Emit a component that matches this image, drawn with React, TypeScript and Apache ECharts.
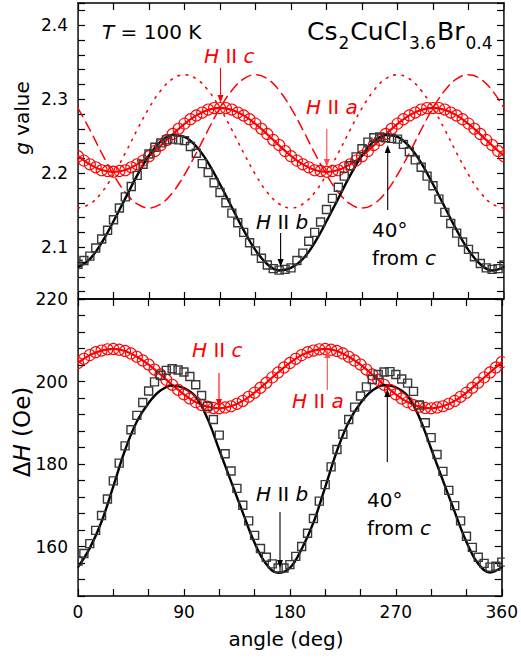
import React, { useEffect, useRef } from 'react';
import * as echarts from 'echarts';

// ---------- data ----------
const angles5 = [
  0, 5, 10, 15, 20, 25, 30, 35, 40, 45, 50, 55, 60, 65, 70, 75, 80, 85, 90,
  95, 100, 105, 110, 115, 120, 125, 130, 135, 140, 145, 150, 155, 160, 165, 170, 175, 180,
  185, 190, 195, 200, 205, 210, 215, 220, 225, 230, 235, 240, 245, 250, 255, 260, 265, 270,
  275, 280, 285, 290, 295, 300, 305, 310, 315, 320, 325, 330, 335, 340, 345, 350, 355, 360,
];
const angles10 = [
  0, 10, 20, 30, 40, 50, 60, 70, 80, 90, 100, 110, 120, 130, 140, 150, 160, 170, 180,
  190, 200, 210, 220, 230, 240, 250, 260, 270, 280, 290, 300, 310, 320, 330, 340, 350, 360,
];

// top panel: g value
const gSquares = [
  2.077, 2.082, 2.088, 2.099, 2.111, 2.123, 2.137, 2.153, 2.168, 2.182, 2.197, 2.212, 2.226, 2.235, 2.241, 2.245, 2.246, 2.245, 2.244,
  2.236, 2.227, 2.213, 2.201, 2.187, 2.174, 2.160, 2.146, 2.133, 2.120, 2.106, 2.095, 2.085, 2.076, 2.071, 2.069, 2.070, 2.072,
  2.082, 2.092, 2.108, 2.120, 2.134, 2.151, 2.166, 2.181, 2.196, 2.210, 2.222, 2.233, 2.242, 2.248, 2.249, 2.248, 2.247, 2.246,
  2.239, 2.229, 2.218, 2.208, 2.196, 2.183, 2.165, 2.147, 2.132, 2.119, 2.107, 2.097, 2.087, 2.078, 2.072, 2.070, 2.071, 2.076,
];
const gCircles = [
  2.223, 2.217, 2.212, 2.208, 2.204, 2.203, 2.202, 2.203, 2.204, 2.208, 2.212, 2.217, 2.223, 2.230, 2.238, 2.245, 2.253, 2.260, 2.267,
  2.273, 2.278, 2.282, 2.286, 2.288, 2.288, 2.288, 2.286, 2.282, 2.278, 2.273, 2.267, 2.260, 2.253, 2.245, 2.238, 2.230, 2.223,
  2.217, 2.212, 2.208, 2.204, 2.203, 2.202, 2.203, 2.204, 2.208, 2.212, 2.217, 2.223, 2.230, 2.238, 2.245, 2.253, 2.260, 2.267,
  2.273, 2.278, 2.282, 2.286, 2.288, 2.288, 2.288, 2.286, 2.282, 2.278, 2.273, 2.267, 2.260, 2.253, 2.245, 2.238, 2.230, 2.223,
];
const gFitBlack = [
  2.073, 2.084, 2.106, 2.135, 2.166, 2.197, 2.224, 2.243, 2.2515, 2.249, 2.236, 2.214, 2.185, 2.154, 2.123, 2.096, 2.077, 2.0685, 2.072,
  2.084, 2.106, 2.135, 2.166, 2.197, 2.224, 2.243, 2.2515, 2.249, 2.236, 2.214, 2.185, 2.154, 2.123, 2.096, 2.077, 2.0685, 2.073,
];
const gFitRed = [
  2.2234, 2.2119, 2.2044, 2.2018, 2.2044, 2.2119, 2.2234, 2.2375, 2.2525, 2.2666, 2.2781, 2.2856, 2.2882, 2.2856, 2.2781, 2.2666, 2.2525, 2.2375, 2.2234,
  2.2119, 2.2044, 2.2018, 2.2044, 2.2119, 2.2234, 2.2375, 2.2525, 2.2666, 2.2781, 2.2856, 2.2882, 2.2856, 2.2781, 2.2666, 2.2525, 2.2375, 2.2234,
];
const gCalcDashed = [
  2.288, 2.2587, 2.2273, 2.198, 2.174, 2.1584, 2.153, 2.1584, 2.174, 2.198, 2.2273, 2.2587, 2.288, 2.3119, 2.3276, 2.333, 2.3276, 2.3119, 2.288,
  2.2587, 2.2273, 2.198, 2.174, 2.1584, 2.153, 2.1584, 2.174, 2.198, 2.2273, 2.2587, 2.288, 2.3119, 2.3276, 2.333, 2.3276, 2.3119, 2.288,
];
const gCalcDotted = [
  2.153, 2.1584, 2.174, 2.198, 2.2273, 2.2587, 2.288, 2.3119, 2.3276, 2.333, 2.3276, 2.3119, 2.288, 2.2587, 2.2273, 2.198, 2.174, 2.1584, 2.153,
  2.1584, 2.174, 2.198, 2.2273, 2.2587, 2.288, 2.3119, 2.3276, 2.333, 2.3276, 2.3119, 2.288, 2.2587, 2.2273, 2.198, 2.174, 2.1584, 2.153,
];

// bottom panel: linewidth ΔH (Oe)
const dhSquares = [
  156.5, 158.3, 160.7, 163.9, 167.5, 171.5, 175.9, 180.2, 184.4, 188.3, 191.8, 194.9, 197.7, 199.9, 201.5, 202.7, 203.1, 202.8, 202.3,
  201.2, 199.2, 196.6, 194.0, 190.8, 187.0, 182.5, 178.3, 174.1, 170.0, 166.2, 162.7, 159.5, 157.4, 155.8, 154.8, 154.8, 155.6,
  157.6, 160.0, 163.2, 166.8, 171.0, 175.0, 179.3, 183.5, 187.2, 190.8, 193.8, 196.5, 198.7, 200.5, 201.7, 202.3, 202.4, 201.7,
  200.6, 199.6, 197.6, 194.3, 190.0, 186.4, 182.3, 178.2, 173.6, 169.9, 166.2, 162.5, 159.8, 157.4, 155.9, 155.0, 155.2, 156.2,
];
const dhCircles = [
  204.5, 205.5, 206.4, 207.1, 207.5, 207.8, 207.9, 207.7, 207.4, 206.8, 206.0, 205.1, 204.1, 202.9, 201.7, 200.4, 199.2, 198.0, 196.9,
  195.9, 195.0, 194.3, 193.9, 193.6, 193.5, 193.7, 194.0, 194.6, 195.3, 196.3, 197.3, 198.5, 199.7, 201.0, 202.2, 203.4, 204.5,
  205.5, 206.4, 207.1, 207.5, 207.8, 207.9, 207.7, 207.4, 206.8, 206.0, 205.1, 204.1, 202.9, 201.7, 200.4, 199.2, 198.0, 196.9,
  195.9, 195.0, 194.3, 193.9, 193.6, 193.5, 193.7, 194.0, 194.6, 195.3, 196.3, 197.3, 198.5, 199.7, 201.0, 202.2, 203.4, 204.7,
];
const dhFitBlack = [
  155.0, 159.6, 166.0, 174.6, 183.4, 190.3, 194.8, 197.8, 199.0, 198.4, 196.3, 191.0, 183.4, 175.8, 168.2, 160.9, 155.7, 153.6, 154.8,
  159.4, 165.8, 174.4, 183.2, 190.2, 194.8, 197.8, 199.1, 198.6, 196.5, 191.3, 183.7, 176.0, 168.4, 161.1, 155.8, 153.7, 155.0,
];
const dhFitRed = [
  204.5, 206.4, 207.5, 207.9, 207.4, 206.0, 204.1, 201.7, 199.2, 196.9, 195.0, 193.9, 193.5, 194.0, 195.3, 197.3, 199.7, 202.2, 204.5,
  206.4, 207.5, 207.9, 207.4, 206.0, 204.1, 201.7, 199.2, 196.9, 195.0, 193.9, 193.5, 194.0, 195.3, 197.3, 199.7, 202.2, 204.7,
];

const xTickLabels = ['0', '90', '180', '270', '360'];
const gTickLabels = ['2.1', '2.2', '2.3', '2.4'];
const dhTickLabels = ['160', '180', '200', '220'];

// ---------- style ----------
const FONT = '"DejaVu Sans", sans-serif';
const RED = '#ff0000';
const BLACK = '#000000';

const zip = (xs: number[], ys: number[]) => xs.map((x, i) => [x, ys[i]]);

function measure(text: string, size: number, italic = false): number {
  const c = document.createElement('canvas').getContext('2d')!;
  c.font = `${italic ? 'italic ' : ''}${size}px "DejaVu Sans"`;
  return c.measureText(text).width;
}

function arrow(x: number, yFrom: number, yTip: number, color: string) {
  const dir = yTip > yFrom ? 1 : -1;
  const headL = 8;
  const headW = 3;
  return [
    {
      type: 'line',
      shape: { x1: x, y1: yFrom, x2: x, y2: yTip - dir * headL },
      style: { stroke: color, lineWidth: 1.1 },
      silent: true,
      z: 20,
    },
    {
      type: 'polygon',
      shape: { points: [[x - headW, yTip - dir * headL], [x + headW, yTip - dir * headL], [x, yTip]] },
      style: { fill: color },
      silent: true,
      z: 20,
    },
  ];
}

function label(x: number, y: number, text: string, color: string, size = 20, align = 'left') {
  return {
    type: 'text',
    x,
    y,
    silent: true,
    z: 20,
    style: {
      text,
      fill: color,
      font: `${size}px ${FONT}`,
      textAlign: align,
      textVerticalAlign: 'middle',
      rich: {
        i: { fontStyle: 'italic', fontSize: size, fontFamily: FONT, fill: color },
        n: { fontSize: size, fontFamily: FONT, fill: color },
      },
    },
  };
}

function formula(x0: number, yMain: number, ySub: number, mainSize: number, subSize: number) {
  const parts: [string, boolean][] = [
    ['Cs', false], ['2', true], ['CuCl', false], ['3.6', true], ['Br', false], ['0.4', true],
  ];
  const els: any[] = [];
  let x = x0;
  for (const [t, sub] of parts) {
    const size = sub ? subSize : mainSize;
    els.push({
      type: 'text',
      x,
      y: sub ? ySub : yMain,
      silent: true,
      z: 20,
      style: { text: t, fill: BLACK, font: `${size}px ${FONT}`, textAlign: 'left', textVerticalAlign: 'middle' },
    });
    x += measure(t, size) + 1;
  }
  return els;
}

const axisLineStyle = { show: true, onZero: false, lineStyle: { color: BLACK, width: 1.6 } };
const tickStyle = { show: true, inside: true, length: 7, lineStyle: { color: BLACK, width: 1.2 } };
const tickFont = { color: BLACK, fontSize: 17, fontFamily: FONT };

function xAxis(grid: number, position: string, labels: boolean) {
  return {
    type: 'value',
    gridIndex: grid,
    position,
    min: 0,
    max: 360,
    interval: 30,
    axisLine: axisLineStyle,
    axisTick: tickStyle,
    splitLine: { show: false },
    axisLabel: labels
      ? {
          show: true,
          margin: 7,
          ...tickFont,
          formatter: (v: number) => {
            const s = String(Math.round(v));
            return xTickLabels.includes(s) ? s : '';
          },
        }
      : { show: false },
  };
}

function gAxis(position: string, labels: boolean) {
  return {
    type: 'value',
    gridIndex: 0,
    position,
    min: 2.03,
    max: 2.43,
    splitNumber: 20,
    axisLine: axisLineStyle,
    axisTick: tickStyle,
    splitLine: { show: false },
    axisLabel: labels
      ? {
          show: true,
          margin: 10,
          ...tickFont,
          formatter: (v: number) => {
            const t = v.toFixed(1);
            return Math.abs(v - parseFloat(t)) < 1e-6 && gTickLabels.includes(t) ? t : '';
          },
        }
      : { show: false },
  };
}

function dhAxis(position: string, labels: boolean) {
  return {
    type: 'value',
    gridIndex: 1,
    position,
    min: 148,
    max: 220,
    interval: 4,
    axisLine: axisLineStyle,
    axisTick: tickStyle,
    splitLine: { show: false },
    axisLabel: labels
      ? {
          show: true,
          margin: 10,
          ...tickFont,
          formatter: (v: number) => {
            const s = String(Math.round(v));
            return dhTickLabels.includes(s) ? s : '';
          },
        }
      : { show: false },
  };
}

function lineSeries(xi: number, yi: number, xs: number[], ys: number[], color: string, width: number, type: any, z = 2) {
  return {
    type: 'line',
    xAxisIndex: xi,
    yAxisIndex: yi,
    data: zip(xs, ys),
    smooth: 0.4,
    symbol: 'none',
    showSymbol: false,
    clip: true,
    z,
    lineStyle: { color, width, type, cap: 'round' },
    silent: true,
  };
}

function markerSeries(xi: number, yi: number, xs: number[], ys: number[], symbol: string, size: number, color: string, bw: number) {
  return {
    type: 'scatter',
    xAxisIndex: xi,
    yAxisIndex: yi,
    data: zip(xs, ys),
    symbol,
    symbolSize: size,
    clip: true,
    z: 3,
    silent: true,
    itemStyle: { color: 'rgba(0,0,0,0)', borderColor: color, borderWidth: bw, opacity: 1 },
  };
}

export default function App() {
  const ref = useRef<HTMLDivElement>(null);

  useEffect(() => {
    if (!ref.current) return;
    const chart = echarts.init(ref.current, undefined, { renderer: 'svg' });

    const graphic: any[] = [
      // masks so that markers at 0° and 360° are cut by the frame
      { type: 'rect', shape: { x: 70, y: 3, width: 7.2, height: 593 }, style: { fill: '#ffffff' }, z: 10, silent: true },
      { type: 'rect', shape: { x: 504.8, y: 3, width: 10, height: 593 }, style: { fill: '#ffffff' }, z: 10, silent: true },
      // axis names
      { ...label(22, 118, '{i|g} value', BLACK, 20, 'center'), rotation: Math.PI / 2 },
      { ...label(22, 432, '{n|Δ}{i|H} (Oe)', BLACK, 23, 'center'), rotation: Math.PI / 2 },
      label(286, 639, 'angle (deg)', BLACK, 20, 'center'),
      // top panel texts
      label(102, 32, '{i|T} = 100 K', BLACK, 20),
      ...formula(307, 31, 43, 25, 17),
      label(204, 56, '{i|H} II {i|c}', RED, 20),
      label(306, 107, '{i|H} II {i|a}', RED, 20),
      label(256, 222, '{i|H} II {i|b}', BLACK, 20),
      label(372, 230, '40°', BLACK, 20),
      label(372, 258, 'from {i|c}', BLACK, 20),
      // bottom panel texts
      label(192, 350, '{i|H} II {i|c}', RED, 20),
      label(292, 401, '{i|H} II {i|a}', RED, 20),
      label(256, 494, '{i|H} II {i|b}', BLACK, 20),
      label(367, 500, '40°', BLACK, 20),
      label(367, 528, 'from {i|c}', BLACK, 20),
      // arrows
      ...arrow(220.5, 68, 103, RED),
      ...arrow(326.8, 129, 167, '#ff4a4a'),
      ...arrow(280.6, 233, 267, BLACK),
      ...arrow(387.7, 210, 145, BLACK),
      ...arrow(219, 373, 407, RED),
      ...arrow(327.3, 390, 350, '#ff4a4a'),
      ...arrow(280, 512, 568, BLACK),
      ...arrow(387.3, 462, 389, BLACK),
    ];

    chart.setOption({
      animation: false,
      backgroundColor: '#ffffff',
      grid: [
        { left: 78, top: 3, width: 426, height: 296, containLabel: false },
        { left: 78, top: 299, width: 426, height: 297, containLabel: false },
      ],
      xAxis: [
        xAxis(0, 'bottom', false),
        xAxis(0, 'top', false),
        xAxis(1, 'bottom', true),
        xAxis(1, 'top', false),
      ],
      yAxis: [gAxis('left', true), gAxis('right', false), dhAxis('left', true), dhAxis('right', false)],
      series: [
        // top
        lineSeries(0, 0, angles10, gCalcDotted, RED, 1.6, [1.6, 6.5], 1),
        lineSeries(0, 0, angles10, gCalcDashed, RED, 1.5, [10, 6], 1),
        lineSeries(0, 0, angles10, gFitRed, RED, 2.2, 'solid'),
        markerSeries(0, 0, angles5, gCircles, 'circle', 11, RED, 1.1),
        lineSeries(0, 0, angles10, gFitBlack, BLACK, 2.4, 'solid'),
        markerSeries(0, 0, angles5, gSquares, 'rect', 8, '#383838', 1.4),
        // bottom
        lineSeries(2, 2, angles10, dhFitRed, RED, 2.2, 'solid'),
        markerSeries(2, 2, angles5, dhCircles, 'circle', 11, RED, 1.1),
        lineSeries(2, 2, angles10, dhFitBlack, BLACK, 2.4, 'solid'),
        markerSeries(2, 2, angles5, dhSquares, 'rect', 8, '#383838', 1.4),
      ],
      graphic,
    });

    return () => chart.dispose();
  }, []);

  return (
    <div
      ref={ref}
      style={{ position: 'absolute', left: 0, top: 0, width: 521, height: 661, background: '#fff' }}
    />
  );
}
